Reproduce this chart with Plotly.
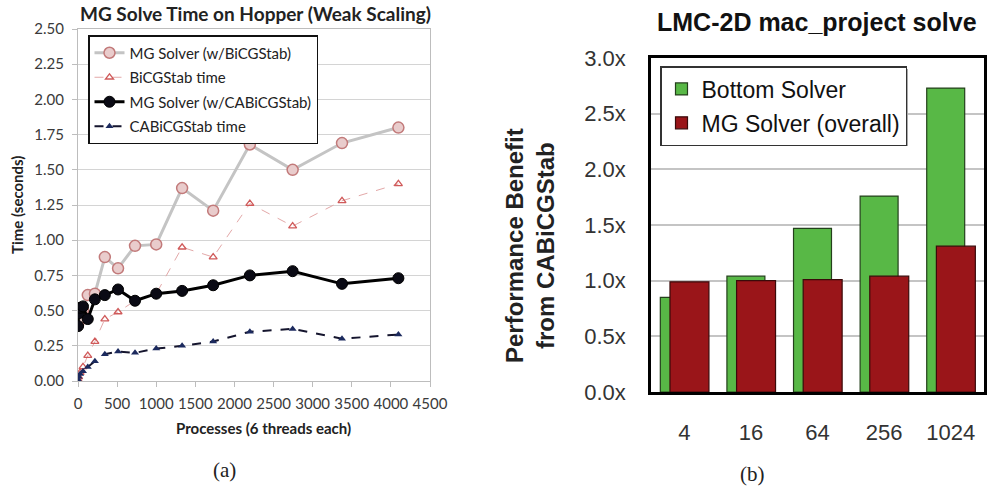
import plotly.graph_objects as go

# ---------------- (a) weak scaling timings ----------------
processes = [1, 8, 27, 64, 125, 216, 343, 512, 729, 1000, 1331, 1728, 2197, 2744, 3375, 4096]
mg_bicgstab = [0.40, 0.42, 0.45, 0.50, 0.61, 0.62, 0.88, 0.80, 0.96, 0.97, 1.37, 1.21, 1.68, 1.50, 1.69, 1.80]
bicgstab_time = [0.01, 0.03, 0.06, 0.10, 0.18, 0.28, 0.44, 0.49, 0.57, 0.62, 0.95, 0.88, 1.26, 1.10, 1.28, 1.40]
mg_cabicgstab = [0.39, 0.48, 0.52, 0.53, 0.44, 0.58, 0.61, 0.65, 0.57, 0.62, 0.64, 0.68, 0.75, 0.78, 0.69, 0.73]
cabicgstab_time = [0.01, 0.03, 0.05, 0.07, 0.10, 0.14, 0.19, 0.21, 0.20, 0.23, 0.25, 0.28, 0.35, 0.37, 0.30, 0.33]

# ---------------- (b) speedup from CABiCGStab ----------------
cores = ["4", "16", "64", "256", "1024"]
bottom_solver = [0.85, 1.04, 1.47, 1.76, 2.73]
mg_overall = [0.99, 1.00, 1.01, 1.04, 1.31]

W, H = 987, 495
def px(x):
    return x / W
def py(y):
    return 1 - y / H

CAL = "Lato"
ARIAL = "Liberation Sans, Arial"
SERIF = "Liberation Serif, DejaVu Serif"

fig = go.Figure()

# ----- left panel traces -----
fig.add_trace(go.Scatter(
    x=processes, y=mg_bicgstab, name="MG Solver (w/BiCGStab)", mode="lines+markers",
    line=dict(color="#c4c4c4", width=3),
    marker=dict(symbol="circle", size=11, color="#e9cccc", line=dict(color="#c27a7a", width=1.5)),
    xaxis="x", yaxis="y", legend="legend", legendgroup="a1"))
fig.add_trace(go.Scatter(
    x=processes, y=bicgstab_time, name="BiCGStab time", mode="lines+markers",
    line=dict(color="#e3a8a8", width=1, dash="dash"),
    marker=dict(symbol="triangle-up-open", size=7, color="#d05a5a", line=dict(width=1.3)),
    xaxis="x", yaxis="y", legend="legend", legendgroup="a2"))
fig.add_trace(go.Scatter(
    x=processes, y=mg_cabicgstab, name="MG Solver (w/CABiCGStab)", mode="lines+markers",
    line=dict(color="#000000", width=3),
    marker=dict(symbol="circle", size=11, color="#0a0a14", line=dict(color="#000000", width=1)),
    xaxis="x", yaxis="y", legend="legend", legendgroup="a3"))
fig.add_trace(go.Scatter(
    x=processes, y=cabicgstab_time, name="CABiCGStab time", mode="lines+markers",
    line=dict(color="#15152e", width=2, dash="dash"),
    marker=dict(symbol="triangle-up", size=7, color="#1c2a5e"),
    xaxis="x", yaxis="y", legend="legend", legendgroup="a4"))

# ----- right panel traces -----
idx = list(range(len(cores)))
fig.add_trace(go.Bar(
    x=idx, y=bottom_solver, name="Bottom Solver", offset=-0.36, width=0.57,
    marker=dict(color="#58b846", line=dict(color="#24401c", width=1.2)),
    xaxis="x2", yaxis="y2", legend="legend2", legendgroup="b1"))
fig.add_trace(go.Bar(
    x=idx, y=mg_overall, name="MG Solver (overall)", offset=-0.215, width=0.585,
    marker=dict(color="#9a1519", line=dict(color="#3a0a0a", width=1.2)),
    xaxis="x2", yaxis="y2", legend="legend2", legendgroup="b2"))

tickfont_l = dict(family=CAL, size=15, color="#3a3a3a")

def label(text, x, y, font, angle=0):
    return dict(text=text, x=px(x), y=py(y), xref="paper", yref="paper",
                xanchor="center", yanchor="middle", showarrow=False,
                textangle=angle, font=font)

fig.update_layout(
    width=W, height=H, margin=dict(l=0, r=0, t=0, b=0, autoexpand=False),
    paper_bgcolor="white", plot_bgcolor="white",
    barmode="overlay", showlegend=True,
    xaxis=dict(domain=[px(78), px(430)], range=[0, 4500], dtick=500, anchor="y",
               showgrid=False, showline=True, linecolor="#bdbdbd", linewidth=1, mirror=True,
               ticks="outside", ticklen=5, tickcolor="#bdbdbd",
               tickfont=tickfont_l, ticklabelstandoff=4, zeroline=False),
    yaxis=dict(domain=[py(381), py(29)], range=[0, 2.5], dtick=0.25, tickformat=".2f", anchor="x",
               showgrid=True, gridcolor="#d4d4d4", gridwidth=1,
               showline=True, linecolor="#bdbdbd", linewidth=1, mirror=True,
               ticks="outside", ticklen=5, tickcolor="#bdbdbd",
               tickfont=tickfont_l, ticklabelstandoff=5, zeroline=False),
    xaxis2=dict(domain=[px(651), px(984)], range=[-0.5, 4.5], anchor="y2",
                tickmode="array", tickvals=idx, ticktext=cores,
                showgrid=False, showline=True, linecolor="#000000", linewidth=2.5, mirror=True,
                ticks="outside", ticklen=19, tickcolor="rgba(0,0,0,0)",
                tickfont=dict(family=ARIAL, size=22, color="#333333"), zeroline=False),
    yaxis2=dict(domain=[py(392), py(58)], range=[0, 3.0], dtick=0.5, anchor="x2",
                tickformat=".1f", ticksuffix="x",
                showgrid=True, gridcolor="#c4c4c4", gridwidth=1.5,
                showline=True, linecolor="#000000", linewidth=2.5, mirror=True,
                ticks="outside", ticklen=18, tickcolor="rgba(0,0,0,0)",
                tickfont=dict(family=ARIAL, size=22, color="#333333"), zeroline=False),
    legend=dict(x=px(88), y=py(35), xanchor="left", yanchor="top",
                bgcolor="white", bordercolor="#111111", borderwidth=1.5,
                font=dict(family=CAL, size=15, color="#222222"),
                itemwidth=30, tracegroupgap=2, traceorder="grouped"),
    legend2=dict(x=px(660), y=py(66), xanchor="left", yanchor="top",
                 bgcolor="white", bordercolor="#333333", borderwidth=1.5,
                 font=dict(family=ARIAL, size=23, color="#111111"),
                 itemwidth=30, tracegroupgap=1, traceorder="grouped"),
    shapes=[
        # soft drop shadows behind the two legend boxes
        dict(type="rect", xref="paper", yref="paper", layer="above",
             x0=px(91), x1=px(309), y0=py(140), y1=py(38),
             fillcolor="#a8a8a8", line=dict(width=0)),
        dict(type="rect", xref="paper", yref="paper", layer="above",
             x0=px(663), x1=px(908), y0=py(146), y1=py(69),
             fillcolor="#a8a8a8", line=dict(width=0)),
    ],
    annotations=[
        label("<b>MG Solve Time on Hopper (Weak Scaling)</b>", 255, 14,
              dict(family=CAL, size=19, color="#222222")),
        label("<b>Time (seconds)</b>", 17, 205, dict(family=CAL, size=15, color="#222222"), -90),
        label("<b>Processes (6 threads each)</b>", 263, 428,
              dict(family=CAL, size=15, color="#222222")),
        label("<b>LMC-2D mac_project solve</b>", 817, 22,
              dict(family=ARIAL, size=25, color="#111111")),
        label("<b>Performance Benefit<br>from CABiCGStab</b>", 530, 246,
              dict(family=ARIAL, size=24, color="#222222"), -90),
        label("(a)", 224, 470, dict(family=SERIF, size=21, color="#222222")),
        label("(b)", 752, 474, dict(family=SERIF, size=21, color="#222222")),
    ],
)

fig.write_html("out.html")
